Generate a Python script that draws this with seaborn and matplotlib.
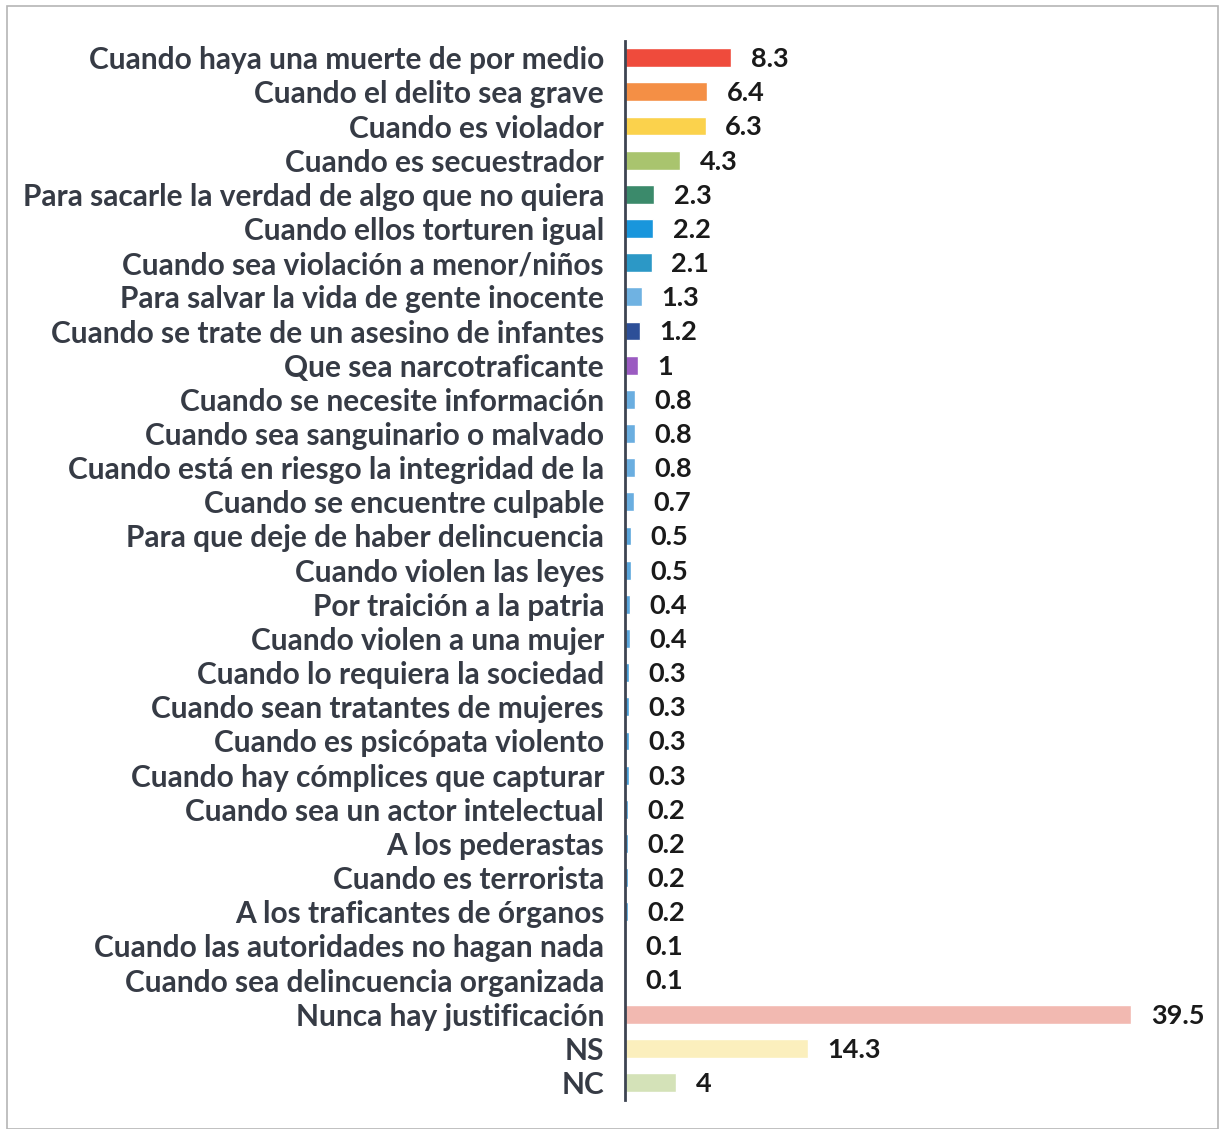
import matplotlib
matplotlib.use("Agg")
import matplotlib.pyplot as plt
import matplotlib.patches as mpatches
import seaborn as sns
import pandas as pd

# ==========================================================
# DATA
# ==========================================================

categorias = [
    "Cuando haya una muerte de por medio",
    "Cuando el delito sea grave",
    "Cuando es violador",
    "Cuando es secuestrador",
    "Para sacarle la verdad de algo que no quiera",
    "Cuando ellos torturen igual",
    "Cuando sea violación a menor/niños",
    "Para salvar la vida de gente inocente",
    "Cuando se trate de un asesino de infantes",
    "Que sea narcotraficante",
    "Cuando se necesite información",
    "Cuando sea sanguinario o malvado",
    "Cuando está en riesgo la integridad de la",
    "Cuando se encuentre culpable",
    "Para que deje de haber delincuencia",
    "Cuando violen las leyes",
    "Por traición a la patria",
    "Cuando violen a una mujer",
    "Cuando lo requiera la sociedad",
    "Cuando sean tratantes de mujeres",
    "Cuando es psicópata violento",
    "Cuando hay cómplices que capturar",
    "Cuando sea un actor intelectual",
    "A los pederastas",
    "Cuando es terrorista",
    "A los traficantes de órganos",
    "Cuando las autoridades no hagan nada",
    "Cuando sea delincuencia organizada",
    "Nunca hay justificación",
    "NS",
    "NC",
]

valores = [8.3, 6.4, 6.3, 4.3, 2.3, 2.2, 2.1, 1.3, 1.2, 1, 0.8, 0.8, 0.8,
           0.7, 0.5, 0.5, 0.4, 0.4, 0.3, 0.3, 0.3, 0.3, 0.2, 0.2, 0.2, 0.2,
           0.1, 0.1, 39.5, 14.3, 4]

etiquetas = ["8.3", "6.4", "6.3", "4.3", "2.3", "2.2", "2.1", "1.3", "1.2",
             "1", "0.8", "0.8", "0.8", "0.7", "0.5", "0.5", "0.4", "0.4",
             "0.3", "0.3", "0.3", "0.3", "0.2", "0.2", "0.2", "0.2", "0.1",
             "0.1", "39.5", "14.3", "4"]

colores = ["#ef4b3c", "#f48f45", "#fbd24c", "#a9c46e", "#3b8a6b", "#1996dc",
           "#2c98c6", "#6fb2e2", "#2d4f98", "#9b5bc1", "#6aaee0", "#6aaee0",
           "#6aaee0", "#6aaee0", "#5aa6dc", "#5aa6dc", "#5aa6dc", "#5aa6dc",
           "#4aa0d8", "#4aa0d8", "#4aa0d8", "#4aa0d8", "#4aa0d8", "#4aa0d8",
           "#4aa0d8", "#4aa0d8", "#4aa0d8", "#4aa0d8", "#f2b9b1", "#fbefbd",
           "#d4e2b8"]

df = pd.DataFrame({"categoria": categorias, "valor": valores})

# ==========================================================
# PLOT
# ==========================================================

sns.set_style("white")
plt.rcParams["font.family"] = ["Lato", "DejaVu Sans"]

fig = plt.figure(figsize=(12.23, 11.29), dpi=100)
ax = fig.add_axes([0.511, 0.026, 0.48, 0.938])

sns.barplot(
    data=df,
    x="valor",
    y="categoria",
    hue="categoria",
    palette=colores,
    saturation=1,
    legend=False,
    width=0.55,
    ax=ax,
)

for i, (v, t) in enumerate(zip(valores, etiquetas)):
    ax.annotate(
        t,
        xy=(v, i),
        xytext=(14, -1),
        textcoords="offset points",
        va="center",
        ha="left",
        fontsize=19.5,
        fontweight="bold",
        color="#1a1a1a",
    )

ax.set_xlim(0, 45.8)
ax.set_ylim(len(categorias) - 0.5, -0.5)
ax.set_xlabel("")
ax.set_ylabel("")
ax.set_xticks([])
ax.tick_params(axis="y", length=0, pad=15)
for lbl in ax.get_yticklabels():
    lbl.set_fontsize(21.5)
    lbl.set_fontweight("bold")
    lbl.set_color("#363b45")

for side in ["top", "right", "bottom"]:
    ax.spines[side].set_visible(False)
ax.spines["left"].set_color("#3d4452")
ax.spines["left"].set_linewidth(2)

# thin frame around the picture
fig.patches.append(mpatches.Rectangle(
    (0.006, 0.0), 0.99, 0.995, transform=fig.transFigure,
    fill=False, edgecolor="#b5b5b5", linewidth=1.2))

plt.savefig("out.png", dpi=100)
